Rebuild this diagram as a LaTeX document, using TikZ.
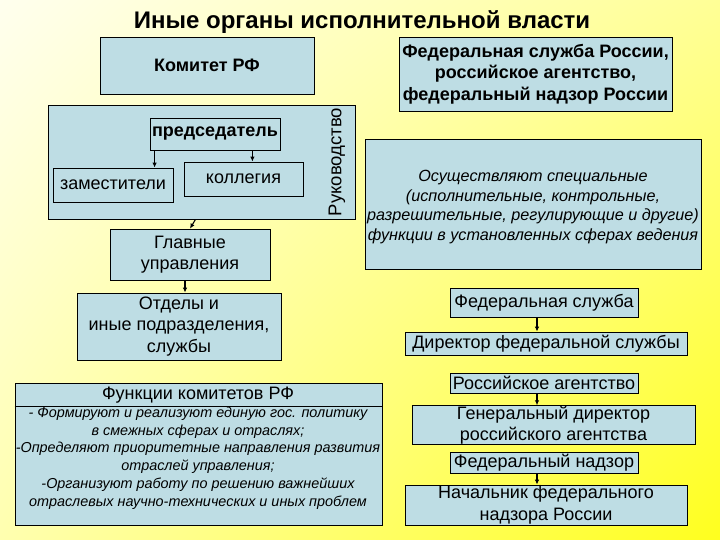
\documentclass[tikz,border=0pt]{standalone}
\usepackage{fontspec}
\setmainfont{Liberation Sans}
\usetikzlibrary{arrows.meta,calc,shadings}
\definecolor{boxblue}{RGB}{190,221,228}
\definecolor{bgul}{RGB}{255,255,238}
\definecolor{bgur}{RGB}{255,255,150}
\definecolor{bgll}{RGB}{255,255,175}
\definecolor{bglr}{RGB}{255,255,30}
\newcommand\mkbox[6]{\node[box,minimum width={(#4-#2)*1pt},minimum height={(#5-#3)*1pt}] (#1) at ({(#2+#4)/2},{(#3+#5)/2}) {#6};}
\begin{document}
\begin{tikzpicture}[x=1pt,y=-1pt,
  box/.style={draw=black,line width=0.8pt,fill=boxblue,inner sep=0pt,align=center,font=\fontsize{18}{21.5}\selectfont},
  itxt/.style={align=center,inner sep=0pt,font=\fontsize{16.2}{19.6}\selectfont\itshape},
  arr/.style={-{Latex[length=5pt,width=4.5pt]},line width=1.1pt}]
\useasboundingbox (0,0) rectangle (720,540);
\shade[upper left=bgul,upper right=bgur,lower left=bgll,lower right=bglr] (0,0) rectangle (720,540);
\node[font=\fontsize{24}{28}\selectfont\bfseries] (title) at (362,22) {Иные органы исполнительной власти};
% left column
\mkbox{kom}{100}{37}{314}{94}{\bfseries Комитет РФ}
\mkbox{ruk}{48}{105}{355}{219}{}
\node[rotate=90,inner sep=0pt,font=\fontsize{18.5}{20}\selectfont] (rukl) at (337,162) {Руководство};
\mkbox{pred}{150}{118}{280}{150}{\bfseries председатель}
\mkbox{zam}{53}{168}{173}{202}{заместители}
\mkbox{kol}{184}{162}{303}{196}{коллегия}
\mkbox{glav}{110}{229}{270}{280}{Главные\\управления}
\mkbox{otd}{77}{293}{281}{360}{Отделы и\\иные подразделения,\\службы}
\mkbox{fun}{15}{383}{382}{525}{}
\draw[line width=0.8pt] (fun.west |- 0,406) -- (fun.east |- 0,406);
\node[inner sep=0pt,font=\fontsize{18}{20}\selectfont] (funh) at (198,395) {Функции комитетов РФ};
\node[itxt,font=\fontsize{14.4}{17.8}\selectfont\itshape] (funt) at (198,458) {- Формируют и реализуют единую  гос. политику\\в смежных сферах и отраслях;\\-Определяют приоритетные направления развития\\отраслей управления;\\-Организуют работу по решению важнейших\\отраслевых научно-технических и иных проблем};
% arrows left
\coordinate (a1) at ([xshift=5pt]pred.south west);
\draw[arr] (a1) -- (a1 |- zam.north);
\coordinate (a2) at ([xshift=-28pt]pred.south east);
\draw[arr] (a2) -- (a2 |- kol.north);
\draw[arr] ([xshift=-6pt]ruk.south) -- (glav.north);
\coordinate (a3) at ([xshift=-5pt]glav.south);
\draw[arr] (a3) -- (a3 |- otd.north);
% right column
\mkbox{fsr}{399}{37}{672}{111}{\bfseries Федеральная служба России,\\\bfseries российское агентство,\\\bfseries федеральный надзор России}
\mkbox{osu}{365}{139}{701}{269}{}
\node[itxt] (osut) at (533,207) {Осуществляют специальные\\(исполнительные, контрольные,\\разрешительные, регулирующие и другие)\\функции в установленных сферах ведения};
\mkbox{fs}{450}{288}{638}{317}{Федеральная служба}
\mkbox{dir}{405}{332}{687}{355}{Директор федеральной службы}
\mkbox{ra}{450}{373}{638}{393}{Российское агентство}
\mkbox{gen}{412}{407}{695}{443}{Генеральный директор\\российского агентства}
\mkbox{fn}{450}{452}{638}{473}{Федеральный надзор}
\mkbox{nach}{405}{485}{687}{525}{Начальник федерального\\надзора России}
\coordinate (b1) at ([xshift=-7pt]fs.south);
\draw[arr] (b1) -- (b1 |- dir.north);
\coordinate (b2) at ([xshift=-7pt]ra.south);
\draw[arr] (b2) -- (b2 |- gen.north);
\coordinate (b3) at ([xshift=-7pt]fn.south);
\draw[arr] (b3) -- (b3 |- nach.north);
\end{tikzpicture}
\end{document}
